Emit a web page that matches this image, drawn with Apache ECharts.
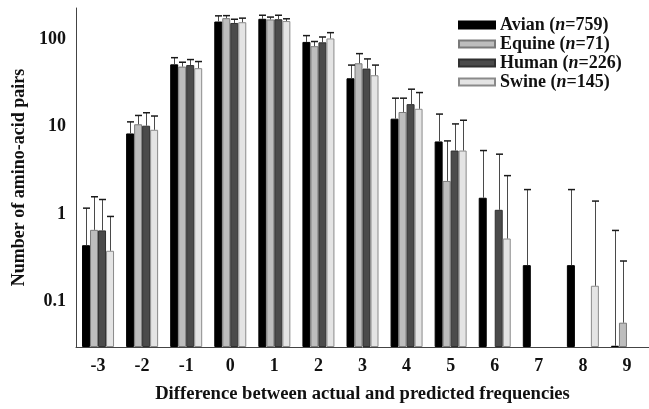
<!DOCTYPE html>
<html>
<head>
<meta charset="utf-8">
<script src="https://cdn.jsdelivr.net/npm/echarts@6/dist/echarts.min.js"></script>
<style>
  html, body { margin: 0; padding: 0; background: #ffffff; }
  #chart { width: 649px; height: 409px; }
</style>
</head>
<body>
<div id="chart"></div>
<script>
// categories on the x axis
const categories = ['-3', '-2', '-1', '0', '1', '2', '3', '4', '5', '6', '7', '8', '9'];

// bar heights (mean) and top of error bar for each group
const avian     = [0.44, 8.4, 52, 161, 173, 94, 36, 12.4, 6.8, 1.54, 0.26, 0.26, 0.031];
const avianErr  = [1.17, 11.4, 62, 187, 190, 111, 51, 21.3, 14, 5.35, 1.91, 1.91, 0.65];
const equine    = [0.66, 10.7, 49, 176, 170, 84, 53.5, 14.8, 2.4, null, null, null, 0.057];
const equineErr = [1.58, 13.5, 55, 188, 181, 95, 69, 21.3, 6.9, null, null, null, 0.29];
const human     = [0.65, 10.3, 51, 155, 171, 93, 46.5, 18.2, 5.35, 1.12, null, null, null];
const humanErr  = [1.47, 14.5, 59, 171, 190, 107, 60, 27, 10.8, 4.86, null, null, null];
const swine     = [0.38, 9.25, 47, 158, 163, 103, 39, 16.1, 5.35, 0.525, null, 0.151, null];
const swineErr  = [0.94, 13.3, 56, 176, 173, 120, 51, 24.7, 11.9, 2.76, null, 1.41, null];

const seriesNames = ['Avian', 'Equine', 'Human', 'Swine'];
const seriesCounts = [759, 71, 226, 145];
const yTicks = [0.1, 1, 10, 100];

const FONT = '"Liberation Serif", "DejaVu Serif", serif';
const BAR_W = 8;

const means = [avian, equine, human, swine];
const errs = [avianErr, equineErr, humanErr, swineErr];
const styles = [
  { color: '#000000', borderColor: '#000000', borderWidth: 1 },
  { color: '#bdbdbd', borderColor: '#7a7a7a', borderWidth: 1 },
  { color: '#4b4b4b', borderColor: '#303030', borderWidth: 1 },
  { color: '#e4e4e4', borderColor: '#8a8a8a', borderWidth: 1 },
];

// error bar data: [category index, bar top, error top, series index]
const errData = [];
means.forEach((arr, s) => {
  arr.forEach((v, i) => {
    if (v != null && errs[s][i] != null) {
      errData.push([i, v, errs[s][i], s]);
    }
  });
});

function renderError(params, api) {
  const i = api.value(0);
  const s = api.value(3);
  const base = api.coord([i, api.value(1)]);
  const top = api.coord([i, api.value(2)]);
  const x = Math.round(top[0] + (s - 1.5) * BAR_W) + 0.5;
  return {
    type: 'group',
    children: [
      {
        type: 'line',
        shape: { x1: x, y1: base[1], x2: x, y2: top[1] },
        style: { stroke: '#4a4a4a', lineWidth: 1 },
      },
      {
        type: 'line',
        shape: { x1: x - 3.5, y1: top[1], x2: x + 3.5, y2: top[1] },
        style: { stroke: '#1a1a1a', lineWidth: 1.5 },
      },
    ],
  };
}

const chart = echarts.init(document.getElementById('chart'));

const barSeries = seriesNames.map((name, s) => ({
  name: name,
  type: 'bar',
  barWidth: BAR_W,
  barGap: '0%',
  itemStyle: styles[s],
  emphasis: { disabled: true },
  data: means[s],
}));

chart.setOption({
  backgroundColor: '#ffffff',
  animation: false,
  grid: {
    left: 76,
    top: 8,
    width: 580,
    bottom: 58,
  },
  legend: {
    orient: 'vertical',
    left: 458,
    top: 16,
    padding: 0,
    itemWidth: 36,
    itemHeight: 7,
    itemGap: 1,
    icon: 'rect',
    data: seriesNames,
    formatter(name) {
      const n = seriesCounts[seriesNames.indexOf(name)];
      return name + ' ({i|n}=' + n + ')';
    },
    textStyle: {
      fontFamily: FONT,
      fontWeight: 'bold',
      fontSize: 18,
      color: '#111',
      rich: {
        i: { fontFamily: FONT, fontWeight: 'bold', fontStyle: 'italic', fontSize: 18, color: '#111' },
      },
    },
  },
  xAxis: {
    type: 'category',
    data: categories,
    name: 'Difference between actual and predicted frequencies',
    nameLocation: 'middle',
    nameGap: 38,
    nameTextStyle: { fontFamily: FONT, fontWeight: 'bold', fontSize: 18.6, color: '#111' },
    axisLine: { lineStyle: { color: '#444', width: 1 } },
    axisTick: { alignWithLabel: true, length: 4, lineStyle: { color: '#444' } },
    axisLabel: { fontFamily: FONT, fontWeight: 'bold', fontSize: 18, color: '#111', margin: 10 },
  },
  yAxis: {
    type: 'log',
    logBase: 10,
    min: 0.03,
    max: 230,
    startValue: 0.03,
    name: 'Number of amino-acid pairs',
    nameLocation: 'middle',
    nameGap: 47,
    nameTextStyle: { fontFamily: FONT, fontWeight: 'bold', fontSize: 18, color: '#111' },
    axisLine: { show: true, lineStyle: { color: '#444', width: 1 } },
    axisTick: { show: false },
    splitLine: { show: false },
    axisLabel: {
      fontFamily: FONT,
      fontWeight: 'bold',
      fontSize: 18,
      color: '#111',
      margin: 10,
      showMinLabel: false,
      showMaxLabel: false,
      formatter(v) {
        // only label the decades
        const hit = yTicks.find(t => Math.abs(t - v) / t < 1e-6);
        return hit != null ? String(hit) : '';
      },
    },
  },
  series: barSeries.concat([
    {
      type: 'custom',
      renderItem: renderError,
      encode: { x: 0, y: [1, 2] },
      data: errData,
      z: 3,
      silent: true,
    },
  ]),
});
</script>
</body>
</html>
